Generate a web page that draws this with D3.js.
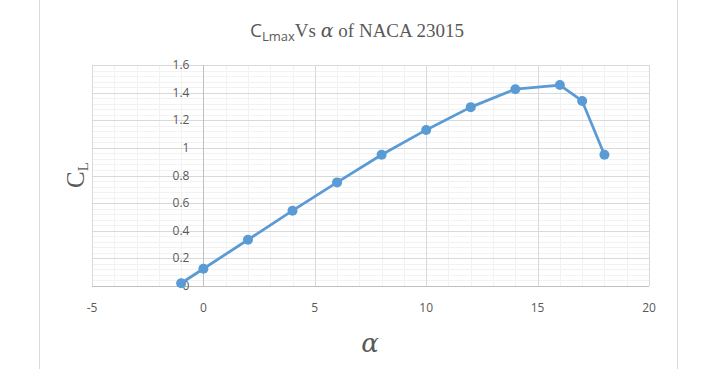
<!DOCTYPE html>
<html>
<head>
<meta charset="utf-8">
<script src="https://cdn.jsdelivr.net/npm/d3@7"></script>
<style>
  body { margin: 0; background: #fff; }
  svg { display: block; }
</style>
</head>
<body>
<svg id="chart" width="711" height="369"></svg>
<script>
// angle of attack (deg) and lift coefficient
const alpha = [-1, 0, 2, 4, 6, 8, 10, 12, 14, 16, 17, 18];
const cl = [0.02, 0.125, 0.335, 0.545, 0.75, 0.95, 1.13, 1.295, 1.425, 1.455, 1.34, 0.95];
const xTicks = [-5, 0, 5, 10, 15, 20];
const yTicks = [0, 0.2, 0.4, 0.6, 0.8, 1, 1.2, 1.4, 1.6];

const svg = d3.select("#chart");
const width = +svg.attr("width");
const height = +svg.attr("height");

const x = d3.scaleLinear().domain([-5, 20]).range([92, 649]);
const y = d3.scaleLinear().domain([0, 1.6]).range([286, 65]);

// outer chart frame (only the sides are visible)
svg.append("line").attr("x1", 39.5).attr("x2", 39.5).attr("y1", 0).attr("y2", height)
  .attr("stroke", "#d9d9d9").attr("stroke-width", 1);
svg.append("line").attr("x1", 677.5).attr("x2", 677.5).attr("y1", 0).attr("y2", height)
  .attr("stroke", "#d9d9d9").attr("stroke-width", 1);

const grid = svg.append("g");

// minor gridlines
d3.range(-5, 20.001, 1).forEach(v => {
  grid.append("line")
    .attr("x1", Math.round(x(v)) + 0.5).attr("x2", Math.round(x(v)) + 0.5)
    .attr("y1", y(1.6)).attr("y2", y(0))
    .attr("stroke", "#f2f2f2");
});
d3.range(0, 1.6001, 0.04).forEach(v => {
  grid.append("line")
    .attr("x1", x(-5)).attr("x2", x(20))
    .attr("y1", Math.round(y(v)) + 0.5).attr("y2", Math.round(y(v)) + 0.5)
    .attr("stroke", "#f2f2f2");
});

// major gridlines
xTicks.forEach(v => {
  grid.append("line")
    .attr("x1", Math.round(x(v)) + 0.5).attr("x2", Math.round(x(v)) + 0.5)
    .attr("y1", y(1.6)).attr("y2", y(0))
    .attr("stroke", "#d9d9d9");
});
yTicks.forEach(v => {
  grid.append("line")
    .attr("x1", x(-5)).attr("x2", x(20))
    .attr("y1", Math.round(y(v)) + 0.5).attr("y2", Math.round(y(v)) + 0.5)
    .attr("stroke", "#d9d9d9");
});

// axes lines through the origin
svg.append("line").attr("x1", x(-5)).attr("x2", x(20))
  .attr("y1", Math.round(y(0)) + 0.5).attr("y2", Math.round(y(0)) + 0.5)
  .attr("stroke", "#bfbfbf");
svg.append("line").attr("x1", Math.round(x(0)) + 0.5).attr("x2", Math.round(x(0)) + 0.5)
  .attr("y1", y(1.6)).attr("y2", y(0))
  .attr("stroke", "#bfbfbf");

// tick labels
const tickFont = "'Open Sans', 'Noto Sans', sans-serif";
svg.append("g").selectAll("text").data(xTicks).join("text")
  .attr("x", d => x(d)).attr("y", 312)
  .attr("text-anchor", "middle")
  .attr("font-family", tickFont).attr("font-size", 12)
  .attr("fill", "#595959")
  .text(d => d);

svg.append("g").selectAll("text").data(yTicks).join("text")
  .attr("x", x(0) - 14).attr("y", d => y(d) + 4)
  .attr("text-anchor", "end")
  .attr("font-family", tickFont).attr("font-size", 12)
  .attr("fill", "#595959")
  .text(d => d);

// series
const line = d3.line().x((d, i) => x(alpha[i])).y(d => y(d));
svg.append("path").datum(cl)
  .attr("d", line)
  .attr("fill", "none")
  .attr("stroke", "#5b9bd5")
  .attr("stroke-width", 2.75)
  .attr("stroke-linejoin", "round");

svg.append("g").selectAll("circle").data(cl).join("circle")
  .attr("cx", (d, i) => x(alpha[i]))
  .attr("cy", d => y(d))
  .attr("r", 5)
  .attr("fill", "#5b9bd5");

// title
const title = svg.append("text")
  .attr("x", 357).attr("y", 37)
  .attr("text-anchor", "middle")
  .attr("fill", "#595959")
  .attr("font-size", 19);
title.append("tspan").attr("font-family", "'Open Sans', sans-serif").text("C");
title.append("tspan").attr("font-family", "'Open Sans', sans-serif")
  .attr("font-size", 13).attr("dy", 4).text("Lmax");
title.append("tspan").attr("font-family", "'Liberation Serif', serif")
  .attr("dy", -4).text("Vs ");
title.append("tspan").attr("font-family", "'DejaVu Serif', serif")
  .attr("font-style", "italic").text("α");
title.append("tspan").attr("font-family", "'Liberation Serif', serif").text(" of NACA 23015");

// y axis title
const yTitle = svg.append("text")
  .attr("transform", "translate(84,175) rotate(-90)")
  .attr("text-anchor", "middle")
  .attr("fill", "#595959")
  .attr("font-family", "'Liberation Serif', serif")
  .attr("font-size", 25);
yTitle.append("tspan").text("C");
yTitle.append("tspan").attr("font-size", 15).attr("dy", 4).text("L");

// x axis title
svg.append("text")
  .attr("x", 370).attr("y", 352)
  .attr("text-anchor", "middle")
  .attr("fill", "#595959")
  .attr("font-family", "'DejaVu Serif', serif")
  .attr("font-style", "italic")
  .attr("font-size", 26)
  .text("α");
</script>
</body>
</html>
